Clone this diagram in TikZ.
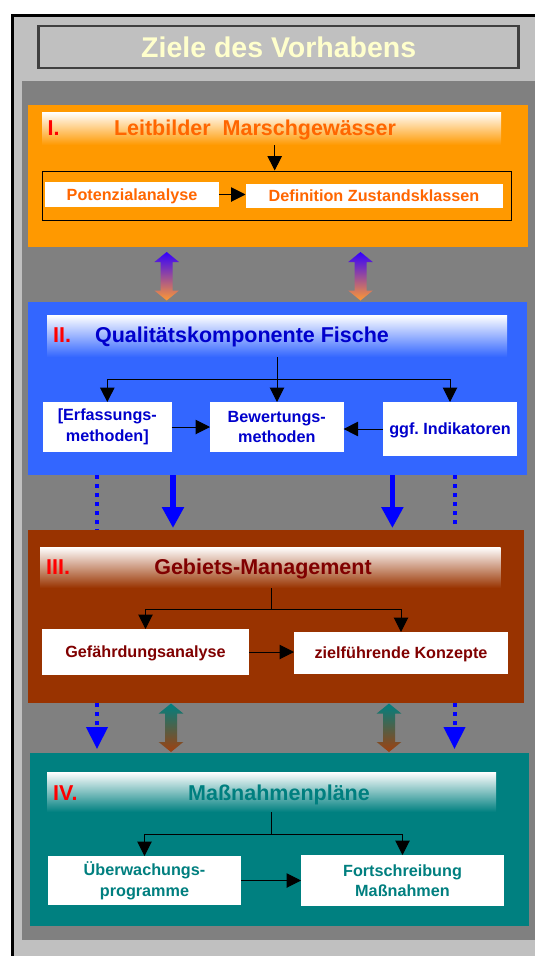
\documentclass[tikz,border=0pt]{standalone}
\usepackage{fontspec}
\setmainfont{Liberation Sans}
\usetikzlibrary{arrows.meta}
\definecolor{lgray}{HTML}{C0C0C0}
\definecolor{dgray}{HTML}{808080}
\definecolor{tborder}{HTML}{404040}
\definecolor{tyellow}{HTML}{FFFFCC}
\definecolor{cOrange}{HTML}{FF9900}
\definecolor{cOrangeT}{HTML}{FF6600}
\definecolor{cBlue}{HTML}{3366FF}
\definecolor{cBlueT}{HTML}{0000CC}
\definecolor{cBrown}{HTML}{993300}
\definecolor{cBrownT}{HTML}{800000}
\definecolor{cTeal}{HTML}{008080}
\definecolor{cTealT}{HTML}{007F7F}
\definecolor{cRed}{HTML}{FF0000}
\definecolor{cArrBlue}{HTML}{0000FF}
\definecolor{dTopBlue}{HTML}{3300FF}
\definecolor{dBotOrange}{HTML}{FF9933}
\definecolor{dBotBrown}{HTML}{A0400F}
\frenchspacing
\newcommand\dblarr[5]{%
  \shade[top color=#4, bottom color=#5] (#1,#2) -- ++(12.3,10) -- ++(-6.3,0)
    -- (#1+6,#3-10) -- ++(6.3,0) -- (#1,#3) -- ++(-12.3,-10) -- ++(6.3,0)
    -- (#1-6,#2+10) -- ++(-6.3,0) -- cycle;}
\tikzset{
  panel/.style={inner sep=0pt, outer sep=0pt},
  hdrbar/.style={inner sep=0pt, outer sep=0pt, top color=white, middle color=white!72!#1, bottom color=#1},
  wbox/.style={fill=white, inner sep=0pt, outer sep=0pt, align=center,
    font=\bfseries\fontsize{16.2}{20.6}\selectfont, text=#1},
  oneline/.style={text height=11.7pt, text depth=0pt},
  htext/.style={inner sep=0pt, anchor=base, font=\bfseries\fontsize{21.5}{24}\selectfont, text=#1},
  hnum/.style={inner sep=0pt, anchor=base west, font=\bfseries\fontsize{21.5}{24}\selectfont, text=cRed},
  tline/.style={draw=black, line width=1pt},
  tarrow/.style={draw=black, line width=1pt, -{Triangle[length=14.5pt,width=14.5pt]}},
  barrow/.style={draw=cArrBlue, line width=5.5pt, -{Triangle[length=21pt,width=21pt]}},
  bdots/.style={draw=cArrBlue, line width=4pt, dash pattern=on 4pt off 5pt},
  bdotarrow/.style={draw=cArrBlue, line width=4pt, dash pattern=on 4pt off 5pt, -{Triangle[length=22pt,width=21pt]}},
}
\begin{document}
\begin{tikzpicture}[x=1pt,y=-1pt]
\useasboundingbox (0,0) rectangle (535,956);
\fill[white] (0,0) rectangle (535,956);
\fill[lgray] (12.5,15.5) rectangle (535,956);
\draw[line width=3pt] (12.5,956) -- (12.5,15.5) -- (535,15.5);
\fill[dgray] (21.5,81) rectangle (535,940);

% title
\node[draw=tborder, line width=2.5pt, fill=lgray, minimum width=480pt, minimum height=42pt,
  inner sep=0pt, text=tyellow, font=\bfseries\fontsize{28.5}{30}\selectfont] (title) at (278.7,47) {Ziele des Vorhabens};

% ---------- I ----------
\node[panel, fill=cOrange, minimum width=500pt, minimum height=142pt] (boxI) at (278,176) {};
\node[hdrbar=cOrange, minimum width=459pt, minimum height=33pt] (hdrI) at (271.5,128.5) {};
\node[hnum] (nI) at (47.5,135.5) {I.};
\node[htext=cOrangeT] (tI) at (255,135.5) {Leitbilder\ \ Marschgewässer};
\node[draw=black, line width=1pt, minimum width=469pt, minimum height=49pt, inner sep=0pt] (innerI) at (276.5,195.5) {};
\node[wbox=cOrangeT, oneline, minimum width=174pt, minimum height=25pt] (pI1) at (132,194.5) {Potenzialanalyse};
\node[wbox=cOrangeT, oneline, minimum width=257pt, minimum height=24pt] (pI2) at (374,196) {Definition Zustandsklassen};
\coordinate (aI) at (274.7,0);
\draw[tarrow] (hdrI.south -| aI) -- (innerI.north -| aI);
\draw[tarrow] (pI1.east) -- (pI1.east -| pI2.west);

% ---------- II ----------
\node[panel, fill=cBlue, minimum width=499pt, minimum height=173pt] (boxII) at (277.5,388.5) {};
\node[hdrbar=cBlue, minimum width=460pt, minimum height=42pt] (hdrII) at (277,336) {};
\node[hnum] (nII) at (53,342.5) {II.};
\node[htext=cBlueT] (tII) at (242,342.5) {Qualitätskomponente Fische};
\node[wbox=cBlueT, minimum width=128.6pt, minimum height=50pt] (bII1) at (107.3,427) {[Erfassungs-\\methoden]};
\node[wbox=cBlueT, minimum width=133.6pt, minimum height=50pt] (bII2) at (276.8,427) {Bewertungs-\\methoden};
\node[wbox=cBlueT, oneline, minimum width=134pt, minimum height=54pt] (bII3) at (450,429) {ggf. Indikatoren};
\coordinate (jII) at (277,379);
\draw[tline] (hdrII.south -| jII) -- (jII);
\draw[tarrow] (jII) -| (bII1.north);
\draw[tarrow] (jII) -| (bII3.north);
\draw[tarrow] (jII) -- (jII |- bII2.north);
\draw[tarrow] (bII1.east) -- (bII1.east -| bII2.west);
\draw[tarrow] (bII3.west) -- (bII3.west -| bII2.east);

% ---------- III ----------
\node[panel, fill=cBrown, minimum width=495.7pt, minimum height=173pt] (boxIII) at (275.85,616.5) {};
\node[hdrbar=cBrown, minimum width=460.5pt, minimum height=41pt] (hdrIII) at (270.25,567.5) {};
\node[hnum] (nIII) at (46,574) {III.};
\node[htext=cBrownT] (tIII) at (263,574) {Gebiets-Management};
\node[wbox=cBrownT, oneline, minimum width=207pt, minimum height=46pt] (bIII1) at (145.5,652) {Gefährdungsanalyse};
\node[wbox=cBrownT, oneline, minimum width=214pt, minimum height=42pt] (bIII2) at (401,653) {zielführende Konzepte};
\coordinate (jIII) at (271.6,609);
\draw[tline] (hdrIII.south -| jIII) -- (jIII);
\draw[tarrow] (jIII) -| (bIII1.north);
\draw[tarrow] (jIII) -| (bIII2.north);
\draw[tarrow] (bIII1.east) -- (bIII1.east -| bIII2.west);

% ---------- IV ----------
\node[panel, fill=cTeal, minimum width=499pt, minimum height=173pt] (boxIV) at (279.5,839.5) {};
\node[hdrbar=cTeal, minimum width=449pt, minimum height=40pt] (hdrIV) at (271.5,792) {};
\node[hnum] (nIV) at (53,800) {IV.};
\node[htext=cTealT] (tIV) at (279,800) {Maßnahmenpläne};
\node[wbox=cTealT, minimum width=193pt, minimum height=49pt] (bIV1) at (144.5,880.5) {Überwachungs-\\programme};
\node[wbox=cTealT, minimum width=203pt, minimum height=51pt] (bIV2) at (402.5,880.5) {Fortschreibung\\Maßnahmen};
\coordinate (jIV) at (271.6,834);
\draw[tline] (hdrIV.south -| jIV) -- (jIV);
\draw[tarrow] (jIV) -| (bIV1.north);
\draw[tarrow] (jIV) -| (bIV2.north);
\draw[tarrow] (bIV1.east) -- (bIV1.east -| bIV2.west);

% ---------- connectors between panels ----------
\dblarr{166.7}{252}{300.5}{dTopBlue}{dBotOrange}
\dblarr{360.5}{252}{300.5}{dTopBlue}{dBotOrange}

\coordinate (dL) at (97,0);
\coordinate (dR) at (454.5,0);
\coordinate (sL) at (173,0);
\coordinate (sR) at (392.4,0);
\draw[bdots] (boxII.south -| dL) -- (boxIII.north -| dL);
\draw[bdots, shorten >=5pt] (boxII.south -| dR) -- (boxIII.north -| dR);
\draw[barrow, shorten >=2pt] (boxII.south -| sL) -- (boxIII.north -| sL);
\draw[barrow, shorten >=2pt] (boxII.south -| sR) -- (boxIII.north -| sR);

\draw[bdotarrow, shorten >=4pt] (boxIII.south -| dL) -- (boxIV.north -| dL);
\draw[bdotarrow, shorten >=4pt] (boxIII.south -| dR) -- (boxIV.north -| dR);
\dblarr{171}{703.5}{752}{cTeal}{dBotBrown}
\dblarr{389}{703.5}{752}{cTeal}{dBotBrown}
\end{tikzpicture}
\end{document}
